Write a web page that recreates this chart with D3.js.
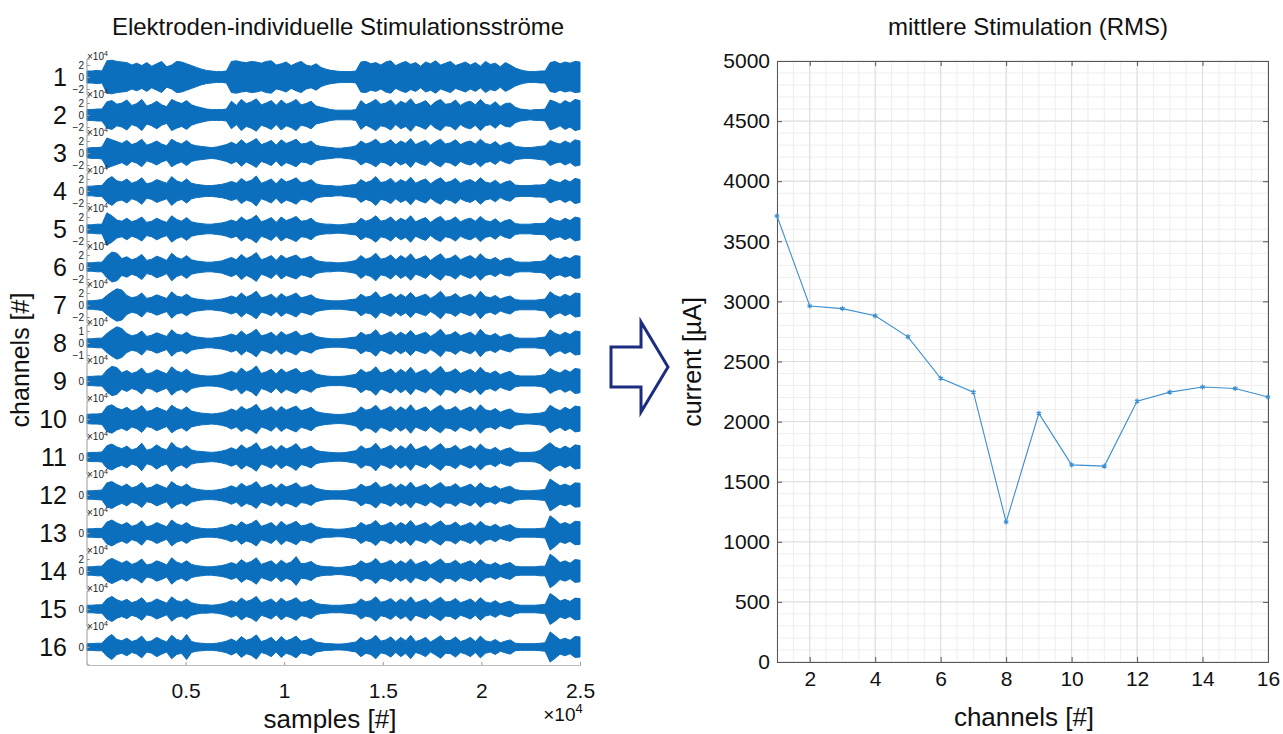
<!DOCTYPE html>
<html>
<head>
<meta charset="utf-8">
<script src="https://cdn.jsdelivr.net/npm/d3@7"></script>
<style>
  body { margin: 0; background: #fff; }
  svg { font-family: "Liberation Sans", Arial, sans-serif; }
</style>
</head>
<body>
<div id="chart"></div>
<script>
// ---- data ----
// envelope (peak amplitude, x10^4) of each electrode signal, one value per 250 samples
let ch1 = [1.0,1.0,1.1,1.0, 2.7,2.8,2.6,2.5,2.4,2.0,2.3,1.9,2.4,1.8,2.2,2.6,1.7,2.0,2.6,2.5,2.2,1.9,1.6, 1.3,1.1,1.0,0.9,0.9,1.0, 2.6,2.7,2.5,2.4,2.6,2.5,2.3,2.6,2.7,2.0,2.2,2.5,1.9,2.3,2.6,2.0,1.8,2.2,1.6, 1.3,1.1,1.0,0.9,0.9,0.9,1.0, 2.5,2.6,2.2,2.4,2.0,2.5,2.7,1.9,2.3,2.6,2.1,2.4,1.8,2.5,2.2,2.7,2.0,2.3,2.6,1.9,2.2,2.5,2.0,2.4,1.8,2.6,2.1,2.3,1.7,2.4,2.0,1.5, 1.2,1.0,0.9,0.9,1.0,1.0, 2.4,2.6,2.2,2.5,2.3,2.6,2.5];
let ch2 = [0.9,0.9,1.0,1.0, 2.2,2.4,1.8,2.0,2.5,1.6,1.9,2.6,1.5,1.8,2.3,1.7,1.4,2.6,2.2,1.9,2.4,1.7,1.4, 1.2,1.0,0.9,0.9,0.9,1.0, 2.3,1.6,2.6,1.9,2.2,2.7,1.7,2.0,2.4,1.6,2.5,1.8,2.1,2.6,1.7,1.9,2.3,1.5,1.3, 1.1,0.9,0.8,0.8,0.8,0.8,0.9, 2.4,1.7,2.1,2.6,1.8,2.0,2.5,1.6,2.3,1.9,2.7,1.7,2.0,2.4,1.5,2.2,2.6,1.8,1.9,2.5,1.6,2.1,2.3,1.7,2.6,1.8,1.6,2.2,1.4,1.9,2.0,1.3, 1.0,0.9,0.8,0.9,0.9,1.0, 2.5,2.2,1.8,2.4,2.0,2.6,2.4];
let ch3 = [0.8,0.9,0.9,1.0, 2.5,2.2,1.9,1.6,2.1,1.4,1.7,2.3,1.3,1.6,2.0,1.5,1.2,2.3,1.8,1.5,2.1,1.4,1.2, 1.1,1.0,0.9,1.0,1.2,1.4, 1.8,1.4,2.2,1.5,1.9,2.4,1.4,1.7,2.1,1.3,2.2,1.6,1.9,2.3,1.5,1.6,2.0,1.3,1.1, 1.0,0.9,0.8,0.8,0.9,1.0,1.2, 2.0,1.5,1.8,2.3,1.5,1.7,2.2,1.4,2.0,1.6,2.4,1.4,1.8,2.1,1.3,1.9,2.3,1.5,1.7,2.2,1.4,1.8,2.0,1.5,2.3,1.6,1.4,1.9,1.2,1.6,1.8,1.1, 1.0,0.9,0.9,1.0,1.1,1.2, 2.1,1.7,1.5,2.0,1.6,2.2,2.0];
let ch4 = [0.8,0.8,0.9,0.9, 1.9,2.4,1.7,1.5,2.0,1.3,1.6,2.2,1.2,1.4,1.9,1.6,1.3,2.4,1.7,1.4,2.0,1.3,1.1, 1.0,0.9,0.9,1.0,1.1,1.3, 1.6,1.3,2.1,1.5,1.8,2.5,1.3,1.6,2.0,1.2,2.1,1.5,1.8,2.2,1.4,1.5,1.9,1.2,1.0, 0.9,0.9,0.8,0.8,0.9,1.0,1.1, 1.9,1.4,1.7,2.4,1.4,1.6,2.1,1.3,1.9,1.5,2.3,1.3,1.7,2.0,1.2,1.8,2.2,1.4,1.6,2.1,1.3,1.7,1.9,1.4,2.2,1.5,1.3,1.8,1.1,1.5,1.7,1.0, 0.9,0.9,0.9,1.0,1.0,1.1, 2.0,1.6,1.4,1.9,1.5,2.1,1.9];
let ch5 = [0.7,0.7,0.8,0.8, 2.7,2.2,1.5,1.3,1.8,1.2,1.5,2.0,1.1,1.3,1.8,1.4,1.1,2.2,1.6,1.3,1.9,1.2,1.0, 0.9,0.8,0.8,0.9,1.0,1.2, 1.5,1.2,2.0,1.4,1.7,2.3,1.2,1.5,1.9,1.1,2.0,1.4,1.7,2.1,1.3,1.4,1.8,1.1,0.9, 0.8,0.8,0.7,0.7,0.8,0.9,1.0, 1.8,1.3,1.6,2.2,1.3,1.5,2.0,1.2,1.8,1.4,2.2,1.2,1.6,1.9,1.1,1.7,2.1,1.3,1.5,2.0,1.2,1.6,1.8,1.3,2.1,1.4,1.2,1.7,1.0,1.4,1.6,0.9, 0.8,0.8,0.8,0.9,0.9,1.0, 1.9,1.5,1.3,1.8,1.4,2.0,1.8];
let ch6 = [0.7,0.7,0.8,0.8, 1.8,2.5,2.3,1.4,1.7,1.2,1.5,2.1,1.1,1.3,1.8,1.5,1.1,2.3,1.6,1.3,1.9,1.2,1.0, 0.9,0.8,0.8,0.9,1.0,1.3, 1.6,1.2,2.1,1.4,1.8,2.4,1.2,1.5,1.9,1.1,2.0,1.4,1.7,2.0,1.3,1.5,1.8,1.1,0.9, 0.8,0.8,0.7,0.7,0.8,0.9,1.1, 1.9,1.3,1.6,2.3,1.3,1.5,2.0,1.2,1.9,1.4,2.2,1.2,1.5,1.9,1.1,1.7,2.2,1.3,1.5,2.0,1.2,1.6,1.9,1.3,2.2,1.4,1.2,1.6,1.0,1.4,1.5,0.9, 0.8,0.8,0.8,0.9,0.9,1.1, 2.1,1.5,1.3,1.7,1.4,1.9,1.8];
let ch7 = [0.7,0.7,0.8,0.9, 1.6,2.2,2.7,2.5,1.6,1.2,1.4,2.0,1.1,1.3,1.7,1.4,1.1,2.2,1.5,1.3,1.8,1.2,1.0, 0.9,0.8,0.8,0.9,1.0,1.2, 1.5,1.2,2.0,1.3,1.7,2.3,1.2,1.4,1.8,1.1,1.9,1.3,1.6,2.0,1.2,1.4,1.7,1.1,0.9, 0.8,0.7,0.7,0.7,0.8,0.9,1.0, 1.8,1.3,1.5,2.2,1.2,1.5,1.9,1.2,1.8,1.3,2.1,1.2,1.5,1.8,1.1,1.6,2.3,1.3,1.4,1.9,1.2,1.5,1.8,1.2,2.3,1.4,1.2,1.6,1.0,1.3,1.5,0.9, 0.8,0.8,0.8,0.8,0.9,1.0, 2.2,1.6,1.3,1.8,1.4,2.0,1.9];
let ch8 = [0.35,0.35,0.4,0.4, 0.8,1.1,1.35,1.2,0.8,0.6,0.7,1.0,0.55,0.65,0.85,0.7,0.55,1.1,0.75,0.65,0.9,0.6,0.5, 0.45,0.4,0.4,0.45,0.5,0.6, 0.75,0.6,1.0,0.65,0.85,1.15,0.6,0.7,0.9,0.55,0.95,0.65,0.8,1.0,0.6,0.7,0.85,0.55,0.45, 0.4,0.35,0.35,0.35,0.4,0.45,0.5, 0.9,0.65,0.75,1.1,0.6,0.75,0.95,0.6,0.9,0.65,1.05,0.6,0.75,0.9,0.55,0.8,1.15,0.65,0.7,0.95,0.6,0.75,0.9,0.6,1.15,0.7,0.6,0.8,0.5,0.65,0.75,0.45, 0.4,0.4,0.4,0.4,0.45,0.5, 1.1,0.8,0.65,0.9,0.7,1.0,0.95];
let ch9 = [1.1,1.1,1.2,1.2, 2.6,3.5,3.2,2.0,2.5,1.8,2.2,3.1,1.7,2.0,2.7,2.2,1.7,3.4,2.4,2.0,2.8,1.8,1.5, 1.3,1.2,1.2,1.3,1.5,1.9, 2.3,1.8,3.1,2.1,2.6,3.6,1.8,2.2,2.8,1.7,2.9,2.0,2.5,3.0,1.9,2.2,2.7,1.7,1.4, 1.2,1.1,1.1,1.1,1.2,1.4,1.6, 2.8,2.0,2.3,3.4,1.9,2.3,2.9,1.8,2.8,2.0,3.3,1.8,2.3,2.8,1.7,2.5,3.5,2.0,2.2,2.9,1.8,2.3,2.8,1.9,3.3,2.1,1.8,2.4,1.5,2.0,2.3,1.4, 1.2,1.2,1.2,1.2,1.3,1.6, 3.0,2.3,1.9,2.7,2.1,3.0,2.8];
let ch10 = [1.1,1.2,1.2,1.3, 3.0,3.4,2.6,2.2,2.8,1.9,2.3,3.2,1.8,2.1,2.8,2.3,1.8,3.3,2.5,2.1,2.9,1.9,1.6, 1.4,1.3,1.2,1.3,1.5,1.8, 2.4,1.9,3.0,2.2,2.7,3.5,1.9,2.3,2.9,1.8,3.0,2.1,2.6,3.1,2.0,2.3,2.8,1.8,1.5, 1.3,1.2,1.1,1.1,1.2,1.4,1.7, 2.9,2.1,2.4,3.3,2.0,2.4,3.0,1.9,2.9,2.1,3.4,1.9,2.4,2.9,1.8,2.6,3.3,2.1,2.3,3.0,1.9,2.4,2.9,2.0,3.4,2.2,1.9,2.5,1.6,2.1,2.4,1.5, 1.3,1.2,1.2,1.3,1.4,1.7, 3.3,2.5,2.0,2.8,2.2,3.1,2.9];
let ch11 = [1.0,1.1,1.1,1.2, 2.7,3.1,2.4,2.0,2.6,1.7,2.1,3.3,1.6,2.0,2.9,2.1,1.7,3.5,2.3,1.9,2.7,1.7,1.4, 1.3,1.2,1.1,1.2,1.4,1.7, 2.2,1.7,2.9,2.0,2.5,3.4,1.7,2.1,2.7,1.6,2.8,1.9,2.4,3.2,1.8,2.1,2.6,1.6,1.3, 1.2,1.1,1.0,1.0,1.1,1.3,1.5, 2.7,1.9,2.2,3.3,1.8,2.2,2.8,1.7,2.7,1.9,3.2,1.7,2.2,2.7,1.6,2.4,3.2,1.9,2.1,2.8,1.7,2.2,2.7,1.8,3.1,2.0,1.7,2.3,1.4,1.9,2.2,1.3, 1.1,1.1,1.1,1.2,1.6,2.6, 3.4,2.4,1.9,2.6,2.0,2.9,2.7];
let ch12 = [1.0,1.0,1.1,1.2, 2.9,3.2,2.5,2.0,2.6,1.7,2.1,3.0,1.6,1.9,2.6,2.1,1.6,3.2,2.3,1.9,2.6,1.7,1.4, 1.2,1.1,1.1,1.2,1.4,1.7, 2.2,1.7,2.8,2.0,2.4,3.2,1.7,2.1,2.6,1.6,2.7,1.9,2.3,2.9,1.8,2.0,2.5,1.6,1.3, 1.1,1.0,1.0,1.0,1.1,1.3,1.5, 2.6,1.9,2.2,3.1,1.8,2.1,2.7,1.7,2.6,1.9,3.1,1.7,2.1,2.6,1.6,2.3,3.0,1.9,2.0,2.7,1.7,2.1,2.6,1.7,2.9,1.9,1.6,2.2,1.4,1.8,2.1,1.3, 1.1,1.0,1.0,1.1,1.2,1.3, 3.8,3.0,2.2,2.6,2.1,2.9,2.8];
let ch13 = [1.0,1.0,1.1,1.1, 2.6,3.1,2.4,1.9,2.5,1.6,2.0,2.9,1.5,1.8,2.5,2.0,1.5,3.1,2.2,1.8,2.5,1.6,1.3, 1.1,1.0,1.0,1.1,1.3,1.6, 2.1,1.6,2.7,1.9,2.3,3.1,1.6,2.0,2.5,1.5,2.8,1.8,2.2,2.8,1.7,1.9,2.4,1.5,1.2, 1.0,1.0,0.9,0.9,1.0,1.2,1.4, 2.5,1.8,2.1,3.0,1.7,2.0,2.6,1.6,2.5,1.8,3.0,1.6,2.0,2.5,1.5,2.2,2.9,1.8,1.9,2.6,1.6,2.0,2.5,1.6,2.8,1.8,1.5,2.1,1.3,1.7,2.0,1.2, 1.0,1.0,1.0,1.0,1.1,1.2, 4.1,3.2,2.1,2.5,2.0,2.8,2.7];
let ch14 = [0.7,0.7,0.8,0.8, 1.7,2.1,1.7,1.3,1.7,1.1,1.4,2.0,1.0,1.2,1.7,1.4,1.0,2.2,1.5,1.2,1.7,1.1,0.9, 0.8,0.7,0.7,0.8,0.9,1.1, 1.4,1.1,1.9,1.3,1.6,2.2,1.1,1.4,1.7,1.0,1.8,1.2,1.5,2.4,1.2,1.3,1.6,1.0,0.8, 0.7,0.7,0.6,0.6,0.7,0.8,1.0, 1.7,1.2,1.4,2.1,1.2,1.4,1.8,1.1,1.7,1.2,2.0,1.1,1.4,1.7,1.0,1.5,2.0,1.2,1.3,1.8,1.1,1.4,1.7,1.1,1.9,1.2,1.0,1.4,0.9,1.2,1.4,0.8, 0.7,0.7,0.7,0.7,0.8,0.8, 2.8,2.2,1.4,1.7,1.3,1.9,1.8];
let ch15 = [0.9,0.9,1.0,1.0, 2.4,3.0,2.2,1.8,2.3,1.5,1.9,2.7,1.4,1.7,2.4,1.9,1.4,2.9,2.0,1.7,2.4,1.5,1.2, 1.0,1.0,0.9,1.0,1.2,1.5, 2.0,1.5,2.6,1.8,2.2,3.0,1.5,1.9,2.4,1.4,2.6,1.7,2.1,2.7,1.6,1.8,2.3,1.4,1.1, 1.0,0.9,0.9,0.9,1.0,1.1,1.3, 2.4,1.7,2.0,2.9,1.6,1.9,2.5,1.5,2.4,1.7,2.9,1.5,1.9,2.4,1.4,2.1,2.8,1.7,1.8,2.5,1.5,1.9,2.4,1.5,2.7,1.7,1.4,2.0,1.2,1.6,1.9,1.1, 0.9,0.9,0.9,0.9,1.0,1.1, 3.7,2.9,1.9,2.3,1.8,2.6,2.5];
let ch16 = [0.8,0.8,0.9,0.9, 2.2,3.0,1.8,1.5,2.1,1.3,1.7,2.6,1.2,1.5,2.3,1.7,1.2,2.8,1.8,1.5,3.0,1.3,1.0, 0.9,0.8,0.8,0.9,1.1,1.4, 1.9,1.3,2.5,1.6,2.0,2.9,1.3,1.7,2.3,1.2,2.5,1.5,1.9,2.6,1.4,1.6,2.1,1.2,1.0, 0.8,0.8,0.7,0.7,0.8,1.0,1.2, 2.3,1.5,1.8,2.8,1.4,1.7,2.4,1.3,2.3,1.5,2.8,1.3,1.7,2.3,1.2,1.9,2.7,1.5,1.6,2.4,1.3,1.7,2.3,1.3,2.6,1.5,1.2,1.8,1.0,1.4,1.7,0.9, 0.8,0.8,0.8,0.8,0.9,1.0, 3.6,2.7,1.7,2.1,1.6,2.5,2.4];
let envelopes = [ch1, ch2, ch3, ch4, ch5, ch6, ch7, ch8, ch9, ch10, ch11, ch12, ch13, ch14, ch15, ch16];

// y limits (x10^4) and tick values for every strip
let stripLimits = [3.0, 3.0, 3.0, 3.0, 3.0, 3.0, 3.0, 1.5, 4.3, 4.3, 4.3, 4.3, 4.3, 3.0, 4.3, 4.3];
let stripTicks = [[-2,0,2],[-2,0,2],[-2,0,2],[-2,0,2],[-2,0,2],[-2,0,2],[-2,0,2],[-1,0,1],
                  [0],[0],[0],[0],[0],[0,2],[0],[0]];
let sampleTicks = [5000, 10000, 15000, 20000, 25000];
let sampleMax = 25000;

// RMS current per channel
let channels = [1,2,3,4,5,6,7,8,9,10,11,12,13,14,15,16];
let rmsCurrent = [3710, 2962, 2940, 2880, 2705, 2360, 2245, 1165, 2068, 1640, 1630, 2170, 2245, 2288, 2275, 2205];
let currentTicks = [0,500,1000,1500,2000,2500,3000,3500,4000,4500,5000];
let channelTicks = [2,4,6,8,10,12,14,16];

// ---- drawing ----
let W = 1283, H = 734;
let svg = d3.select('#chart').append('svg').attr('width', W).attr('height', H);
let font = '"Liberation Sans", Arial, sans-serif';
let blue = '#0b6fbe';

// left panel: stacked waveforms
let left = {x0: 87, x1: 580, firstCenter: 77, step: 38, half: 18};
let xSamples = d3.scaleLinear().domain([0, sampleMax]).range([left.x0, left.x1]);

svg.append('text').attr('x', 338).attr('y', 35).attr('text-anchor', 'middle')
  .attr('font-size', 24).attr('fill', '#111').text('Elektroden-individuelle Stimulationsströme');

envelopes.forEach((env, k) => {
  let cy = left.firstCenter + k * left.step;
  let lim = stripLimits[k];
  let y = d3.scaleLinear().domain([-lim, lim]).range([cy + left.half, cy - left.half]);
  let xi = d3.scaleLinear().domain([0, env.length - 1]).range([0, sampleMax]);
  let g = svg.append('g').attr('class', 'strip');

  let area = d3.area()
    .x((d, i) => xSamples(xi(i)))
    .y0(d => y(-d))
    .y1(d => y(d));
  g.append('path').datum(env).attr('d', area)
    .attr('fill', blue).attr('stroke', blue).attr('stroke-width', 1);

  // left axis of the strip
  let ax = g.append('g').attr('transform', 'translate(' + left.x0 + ',0)')
    .call(d3.axisLeft(y).tickValues(stripTicks[k]).tickSize(-3).tickPadding(3).tickFormat(d3.format('d')));
  ax.select('.domain').attr('stroke', '#999').attr('d', 'M3,' + (cy - left.half) + 'H0V' + (cy + left.half) + 'H3');
  ax.selectAll('.tick line').attr('stroke', '#999');
  ax.selectAll('.tick text').attr('font-size', 10).attr('font-family', font).attr('fill', '#222');

  g.append('text').attr('x', left.x0).attr('y', cy - left.half + 1)
    .attr('font-size', 10).attr('fill', '#222')
    .html('×10<tspan dy="-4" font-size="7">4</tspan>');

  g.append('text').attr('x', 67).attr('y', cy + 9).attr('text-anchor', 'end')
    .attr('font-size', 25).attr('fill', '#111').text(k + 1);
});

// shared samples axis under the last strip
let bottomY = left.firstCenter + 15 * left.step + left.half;
let xAx = svg.append('g').attr('transform', 'translate(0,' + bottomY + ')')
  .call(d3.axisBottom(xSamples).tickValues(sampleTicks).tickSize(-3).tickPadding(18)
    .tickFormat(d => d / 1e4));
xAx.select('.domain').attr('stroke', '#bbb');
xAx.selectAll('.tick line').attr('stroke', '#999');
xAx.selectAll('.tick text').attr('font-size', 21).attr('font-family', font).attr('fill', '#111');

svg.append('text').attr('x', 563).attr('y', 721).attr('text-anchor', 'middle')
  .attr('font-size', 19).attr('fill', '#111')
  .html('×10<tspan dy="-8" font-size="13">4</tspan>');
svg.append('text').attr('x', 330).attr('y', 728).attr('text-anchor', 'middle')
  .attr('font-size', 26).attr('fill', '#111').text('samples [#]');
svg.append('text').attr('transform', 'translate(29,360) rotate(-90)').attr('text-anchor', 'middle')
  .attr('font-size', 25).attr('fill', '#111').text('channels [#]');

// arrow between the panels
let arrow = {x: 611, y: 367, bodyW: 30, bodyH: 40, headW: 27, headH: 90};
let arrowPts = [
  [0, -arrow.bodyH / 2], [arrow.bodyW, -arrow.bodyH / 2], [arrow.bodyW, -arrow.headH / 2],
  [arrow.bodyW + arrow.headW, 0],
  [arrow.bodyW, arrow.headH / 2], [arrow.bodyW, arrow.bodyH / 2], [0, arrow.bodyH / 2]
];
svg.append('path').attr('transform', 'translate(' + arrow.x + ',' + arrow.y + ')')
  .attr('d', d3.line()(arrowPts) + 'Z')
  .attr('fill', '#fff').attr('stroke', '#1c2c80').attr('stroke-width', 3).attr('stroke-linejoin', 'miter');

// right panel: RMS per channel
let m = {left: 777, right: 1268, top: 61, bottom: 662};
let x = d3.scaleLinear().domain([1, 16]).range([m.left, m.right]);
let y = d3.scaleLinear().domain([0, 5000]).range([m.bottom, m.top]);

svg.append('text').attr('x', 1028).attr('y', 35).attr('text-anchor', 'middle')
  .attr('font-size', 24).attr('fill', '#111').text('mittlere Stimulation (RMS)');

let grid = svg.append('g');
grid.selectAll('.minor-x').data(d3.range(1, 16.01, 0.5)).enter().append('line')
  .attr('x1', d => x(d)).attr('x2', d => x(d)).attr('y1', m.top).attr('y2', m.bottom)
  .attr('stroke', '#eeeeee').attr('stroke-width', 1);
grid.selectAll('.minor-y').data(d3.range(0, 5001, 100)).enter().append('line')
  .attr('y1', d => y(d)).attr('y2', d => y(d)).attr('x1', m.left).attr('x2', m.right)
  .attr('stroke', '#eeeeee').attr('stroke-width', 1);
grid.selectAll('.major-x').data(channelTicks).enter().append('line')
  .attr('x1', d => x(d)).attr('x2', d => x(d)).attr('y1', m.top).attr('y2', m.bottom)
  .attr('stroke', '#dddddd').attr('stroke-width', 1);
grid.selectAll('.major-y').data(currentTicks).enter().append('line')
  .attr('y1', d => y(d)).attr('y2', d => y(d)).attr('x1', m.left).attr('x2', m.right)
  .attr('stroke', '#dddddd').attr('stroke-width', 1);

function styleAxis(a, showText) {
  a.select('.domain').attr('stroke', '#555');
  a.selectAll('.tick line').attr('stroke', '#555');
  a.selectAll('.tick text').attr('font-size', 21).attr('font-family', font).attr('fill', '#111')
    .style('display', showText ? null : 'none');
}
styleAxis(svg.append('g').attr('transform', 'translate(' + m.left + ',0)')
  .call(d3.axisLeft(y).tickValues(currentTicks).tickSize(-5).tickPadding(7).tickFormat(d3.format('d'))), true);
styleAxis(svg.append('g').attr('transform', 'translate(' + m.right + ',0)')
  .call(d3.axisRight(y).tickValues(currentTicks).tickSize(-5)), false);
styleAxis(svg.append('g').attr('transform', 'translate(0,' + m.bottom + ')')
  .call(d3.axisBottom(x).tickValues(channelTicks).tickSize(-5).tickPadding(9)), true);
styleAxis(svg.append('g').attr('transform', 'translate(0,' + m.top + ')')
  .call(d3.axisTop(x).tickValues(channelTicks).tickSize(-5)), false);

svg.append('text').attr('x', 1024).attr('y', 726).attr('text-anchor', 'middle')
  .attr('font-size', 26).attr('fill', '#111').text('channels [#]');
svg.append('text').attr('transform', 'translate(701,362) rotate(-90)').attr('text-anchor', 'middle')
  .attr('font-size', 25).attr('fill', '#111').text('current [µA]');

let lineColor = '#3d8fd1';
svg.append('path').datum(rmsCurrent)
  .attr('d', d3.line().x((d, i) => x(channels[i])).y(d => y(d)))
  .attr('fill', 'none').attr('stroke', lineColor).attr('stroke-width', 1.1);
svg.selectAll('.marker').data(rmsCurrent).enter().append('path')
  .attr('transform', (d, i) => 'translate(' + x(channels[i]) + ',' + y(d) + ')')
  .attr('d', d3.symbol(d3.symbolAsterisk, 18)())
  .attr('fill', 'none').attr('stroke', lineColor).attr('stroke-width', 1.2);
</script>
</body>
</html>
